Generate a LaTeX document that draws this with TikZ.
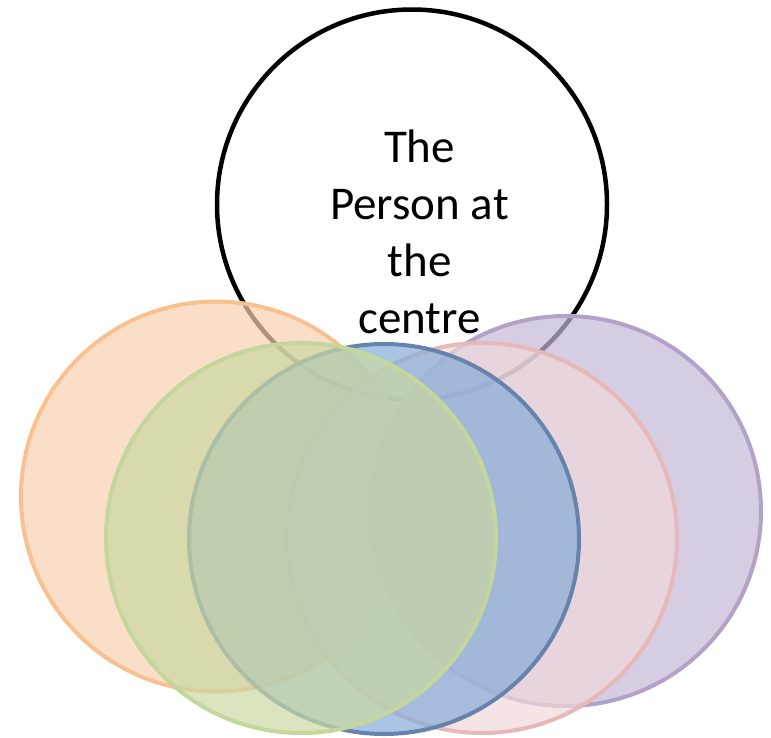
\documentclass[tikz,border=0pt]{standalone}
\usepackage{fontspec}
\setmainfont{Carlito}
\definecolor{orfill}{HTML}{F9D0B0}
\definecolor{orline}{HTML}{FAC090}
\definecolor{grfill}{HTML}{CAD8A2}
\definecolor{grline}{HTML}{C3D69B}
\definecolor{blfill}{HTML}{86ABD8}
\definecolor{blline}{HTML}{6683AB}
\definecolor{pkfill}{HTML}{F0D8DA}
\definecolor{pkline}{HTML}{E6B9B8}
\definecolor{pufill}{HTML}{C6B8D7}
\definecolor{puline}{HTML}{B3A2C7}
\begin{document}
\begin{tikzpicture}[x=1pt,y=-1pt,
  venn/.style={circle,minimum size=390pt,inner sep=0pt,line width=4pt,fill opacity=0.7},
  label/.style={align=center,inner sep=0pt,font=\fontsize{47}{57}\selectfont,text=black}]
\useasboundingbox (0,0) rectangle (771,737);
\node[venn,draw=black,line width=4.5pt,fill=none] (top) at (412,204.5) {};
\node[venn,draw=orline,fill=orfill] (orange) at (216,496.5) {};
\node[venn,draw=puline,fill=pufill] (purple) at (566,511) {};
\node[venn,draw=pkline,fill=pkfill] (pink) at (482,538) {};
\node[venn,draw=blline,fill=blfill] (blue) at (384,539) {};
\node[venn,draw=grline,fill=grfill] (green) at (301,538) {};
\node[label] (txt) at (419.5,232) {The\\Person at\\the\\centre};
\end{tikzpicture}
\end{document}
